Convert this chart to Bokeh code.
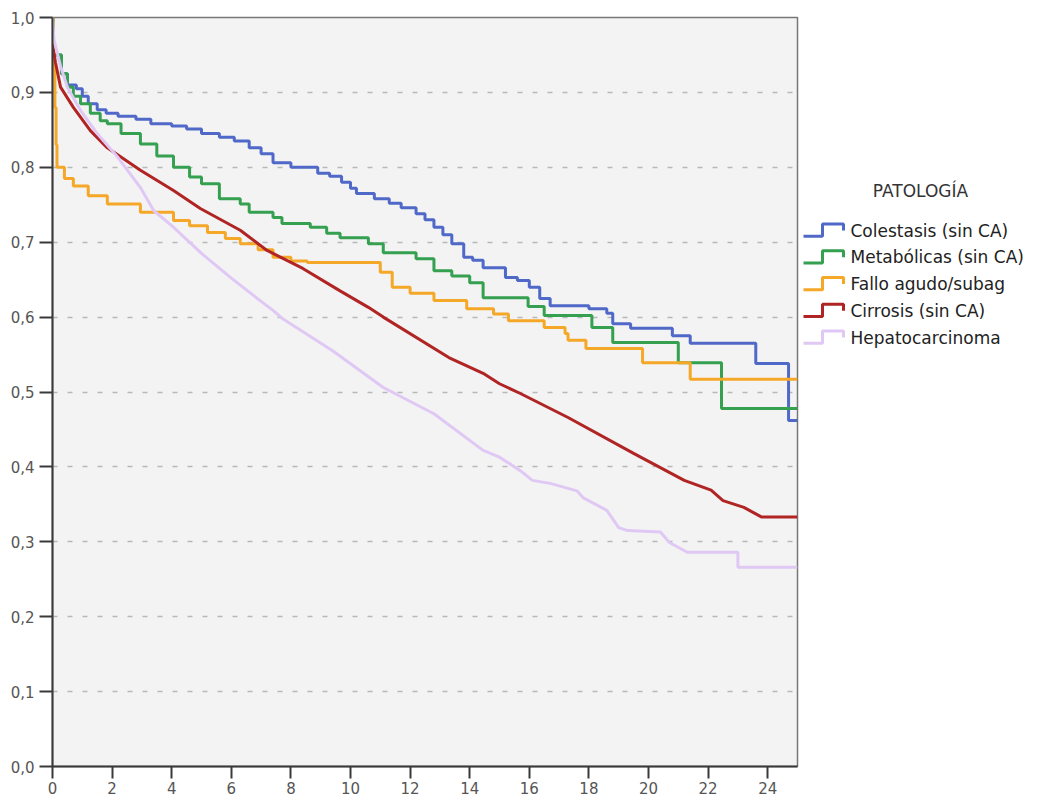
from bokeh.plotting import figure
from bokeh.models import Range1d, FixedTicker, CustomJSTickFormatter
from bokeh.layouts import row
from bokeh.embed import file_html
from bokeh.resources import INLINE
from bokeh.core.properties import value

# ---------------- data ----------------
legend_title = "PATOLOGÍA"
series_names = ["Colestasis (sin CA)", "Metabólicas (sin CA)", "Fallo agudo/subag",
                "Cirrosis (sin CA)", "Hepatocarcinoma"]
series_colors = ["#5069c8", "#34a050", "#f5a828", "#b02424", "#e0c8f4"]

x_ticks = [0, 2, 4, 6, 8, 10, 12, 14, 16, 18, 20, 22, 24]
y_ticks = [0.0, 0.1, 0.2, 0.3, 0.4, 0.5, 0.6, 0.7, 0.8, 0.9, 1.0]

# Colestasis (step function)
colestasis_t = [0, 0.02, 0.3, 0.5, 0.8, 1.0, 1.2, 1.5, 1.8, 2.2, 2.8, 3.3, 4.0, 4.5, 5.0,
                5.6, 6.1, 6.6, 7.0, 7.4, 8.0, 8.9, 9.3, 9.7, 10.0, 10.2, 10.8, 11.3, 11.7,
                12.2, 12.5, 12.8, 13.1, 13.4, 13.8, 14.1, 14.45, 15.2, 15.6, 16.0, 16.35,
                16.7, 18.0, 18.6, 18.8, 19.4, 20.8, 21.4, 23.6, 24.7, 25.0]
colestasis_s = [1.0, 0.95, 0.925, 0.91, 0.905, 0.895, 0.885, 0.877, 0.872, 0.868, 0.864, 0.858,
                0.855, 0.851, 0.845, 0.84, 0.835, 0.826, 0.818, 0.806, 0.8, 0.792, 0.788,
                0.78, 0.772, 0.765, 0.758, 0.752, 0.746, 0.738, 0.73, 0.72, 0.71, 0.698,
                0.68, 0.676, 0.666, 0.653, 0.649, 0.64, 0.625, 0.615, 0.611, 0.605, 0.591,
                0.585, 0.575, 0.565, 0.538, 0.462, 0.462]

# Metabólicas (step function)
metabolicas_t = [0, 0.02, 0.3, 0.5, 0.7, 0.94, 1.27, 1.6, 1.84, 2.3, 2.95, 3.5, 4.06, 4.6,
                 5.0, 5.6, 6.3, 6.6, 7.4, 7.7, 8.65, 9.2, 9.65, 10.6, 11.1, 12.2, 12.8, 13.4,
                 14.0, 14.45, 15.96, 16.5, 18.1, 18.8, 21.0, 22.45, 25.0]
metabolicas_s = [1.0, 0.95, 0.925, 0.907, 0.895, 0.885, 0.872, 0.862, 0.858, 0.845, 0.831,
                 0.815, 0.8, 0.787, 0.778, 0.758, 0.751, 0.74, 0.733, 0.725, 0.72, 0.712,
                 0.706, 0.698, 0.686, 0.678, 0.662, 0.655, 0.646, 0.626, 0.614, 0.602,
                 0.586, 0.566, 0.539, 0.478, 0.478]

# Fallo agudo/subagudo (step function)
fallo_t = [0, 0.02, 0.05, 0.08, 0.12, 0.15, 0.4, 0.7, 1.2, 1.84, 2.95, 4.06, 4.6, 5.2, 5.8,
           6.3, 6.9, 7.4, 8.0, 8.55, 11.0, 11.4, 12.0, 12.8, 13.9, 14.8, 15.3, 16.5, 17.2,
           17.3, 17.9, 19.8, 21.4, 25.0]
fallo_s = [1.0, 0.96, 0.93, 0.88, 0.83, 0.80, 0.785, 0.775, 0.762, 0.751, 0.74, 0.729,
           0.722, 0.713, 0.705, 0.698, 0.69, 0.68, 0.675, 0.673, 0.66, 0.64, 0.632, 0.622,
           0.611, 0.604, 0.595, 0.586, 0.578, 0.569, 0.558, 0.539, 0.517, 0.517]

# Cirrosis (many small steps)
cirrosis_t = [0, 0.1, 0.27, 0.7, 1.27, 1.84, 2.95, 4.06, 4.96, 6.3, 7.2, 8.4, 9.65, 10.6,
              11.1, 13.3, 14.45, 15.0, 15.7, 17.3, 19.5, 21.2, 22.1, 22.5, 23.2, 23.8, 25.0]
cirrosis_s = [0.965, 0.94, 0.907, 0.88, 0.849, 0.826, 0.796, 0.769, 0.745, 0.716, 0.689,
              0.665, 0.635, 0.613, 0.6, 0.546, 0.525, 0.511, 0.498, 0.466, 0.418, 0.382,
              0.369, 0.355, 0.346, 0.333, 0.333]

# Hepatocarcinoma (many small steps, coarse steps at the tail)
hepato_t = [0, 0.05, 0.27, 0.5, 0.94, 1.5, 2.2, 2.95, 3.4, 4.0, 5.0, 6.0, 7.0, 7.4, 7.75, 9.4,
            11.1, 12.8, 14.45, 15.0, 15.7, 16.1, 16.7, 17.6, 17.8, 18.6, 19.0, 19.3, 20.4,
            20.7, 21.3, 23.0, 23.0, 25.0]
hepato_s = [1.0, 0.97, 0.935, 0.907, 0.876, 0.845, 0.813, 0.773, 0.742, 0.722, 0.685, 0.652,
            0.621, 0.609, 0.597, 0.555, 0.506, 0.471, 0.422, 0.413, 0.395, 0.382, 0.378, 0.368,
            0.359, 0.342, 0.319, 0.315, 0.313, 0.299, 0.286, 0.286, 0.266, 0.266]

step_series = [(colestasis_t, colestasis_s), (metabolicas_t, metabolicas_s), (fallo_t, fallo_s)]
line_series = [(cirrosis_t, cirrosis_s), (hepato_t, hepato_s)]

FONT = "DejaVu Sans"

# ---------------- main plot ----------------
p = figure(width=800, height=798, x_range=Range1d(0, 25), y_range=Range1d(0, 1),
           output_backend="svg", toolbar_location=None,
           min_border_left=52, min_border_top=17, min_border_right=3, min_border_bottom=32)
p.background_fill_color = "#f3f3f3"
p.border_fill_color = "white"
p.outline_line_color = "#777777"
p.outline_line_width = 1.5

p.xgrid.grid_line_color = None
p.ygrid.grid_line_color = "#b8b8b8"
p.ygrid.grid_line_dash = "5 10"
p.ygrid.grid_line_width = 1.5

p.xaxis.ticker = FixedTicker(ticks=x_ticks)
p.yaxis.ticker = FixedTicker(ticks=y_ticks)
p.yaxis.formatter = CustomJSTickFormatter(code="return tick.toFixed(1).replace('.', ',');")

for ax in (p.xaxis[0], p.yaxis[0]):
    ax.axis_line_color = "#3a3a3a"
    ax.axis_line_width = 2
    ax.major_tick_line_color = "#3a3a3a"
    ax.major_tick_line_width = 2
    ax.major_tick_in = 0
    ax.minor_tick_line_color = None
    ax.major_label_text_font = FONT
    ax.major_label_text_font_size = "15px"
    ax.major_label_text_color = "#555555"
p.yaxis.major_tick_out = 13
p.yaxis.major_label_standoff = 5
p.xaxis.major_tick_out = 12
p.xaxis.major_label_standoff = 3

# series drawn in legend order (later categories on top)
for (t, s), color in zip(step_series, series_colors[:3]):
    p.step(t, s, mode="after", line_color=color, line_width=3)
for (t, s), color in zip(line_series, series_colors[3:]):
    p.line(t, s, line_color=color, line_width=3)

# ---------------- legend panel ----------------
leg = figure(width=242, height=798, x_range=Range1d(0, 242), y_range=Range1d(798, 0),
             output_backend="svg", toolbar_location=None,
             min_border=0, min_border_left=0, min_border_right=0,
             min_border_top=0, min_border_bottom=0)
leg.axis.visible = False
leg.grid.visible = False
leg.outline_line_color = None
leg.background_fill_color = "white"
leg.border_fill_color = "white"

leg.text(x=[120], y=[185], text=[legend_title], text_font=value(FONT),
         text_font_size="17px", text_color="#333333", text_align="center",
         text_baseline="middle")

first_y, gap = 227, 28.5
icon_x = [3, 22, 22, 43, 43]
for i, (name, color) in enumerate(zip(series_names, series_colors)):
    cy = first_y + i * gap
    leg.line(icon_x, [cy + 6, cy + 6, cy - 7, cy - 7, cy], line_color=color, line_width=3)
    leg.text(x=[50], y=[cy], text=[name], text_font=value(FONT), text_font_size="17px",
             text_color="#222222", text_align="left", text_baseline="middle")

layout = row(p, leg)
open("out.html", "w").write(file_html(layout, INLINE))
